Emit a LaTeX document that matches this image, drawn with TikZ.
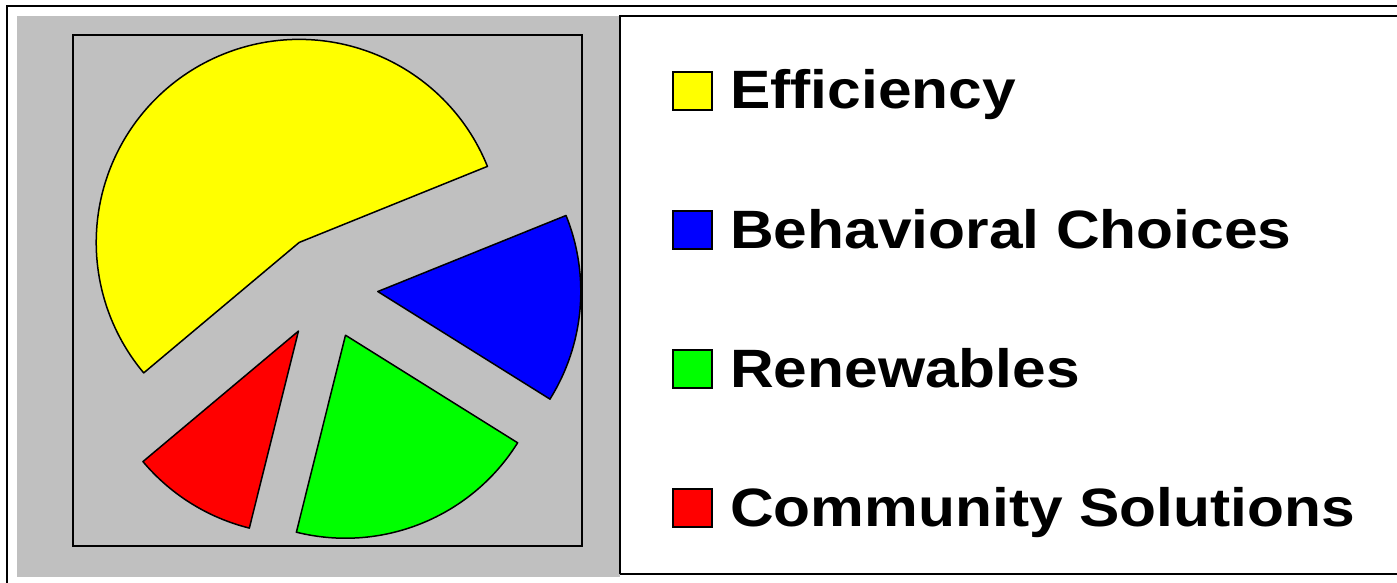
\documentclass[tikz,border=0pt]{standalone}
\usepackage{fontspec}
\usetikzlibrary{calc}
\newfontfamily\legfont{Liberation Sans}[FakeStretch=1.12]
\definecolor{silv}{HTML}{C0C0C0}
\definecolor{pyel}{HTML}{FFFF00}
\definecolor{pblu}{HTML}{0000FF}
\definecolor{pgrn}{HTML}{00FF00}
\definecolor{pred}{HTML}{FF0000}
\begin{document}
\begin{tikzpicture}[x=1pt,y=1pt,
  slice/.style={draw=black,line width=1.5pt,line join=round},
  legsq/.style={draw=black,line width=1.5pt,minimum width=39pt,minimum height=38pt,inner sep=0pt},
  legtxt/.style={anchor=base west,inner sep=0pt,font=\legfont\bfseries\fontsize{54}{64}\selectfont}]
\useasboundingbox (0,0) rectangle (1397,582);
\clip (0,0) rectangle (1397,582);
\fill[white] (0,0) rectangle (1397,582);
% outer frame (cut off at right and bottom)
\draw[line width=2pt] (7,-10) -- (7,576) -- (1410,576);
% gray plot area
\fill[silv] (17,5) rectangle (620,566);
% plot box
\draw[line width=1.8pt] (73,36) rectangle (582,547);
% pie
\coordinate (C) at (326,295);
\def\R{203}
\draw[slice,fill=pyel] ($(C)+(121:52)$) -- ++(22:\R) arc[start angle=22,end angle=220,radius=\R] -- cycle;
\draw[slice,fill=pblu] ($(C)+(-5:52)$) -- ++(-32:\R) arc[start angle=-32,end angle=22,radius=\R] -- cycle;
\draw[slice,fill=pgrn] ($(C)+(-68:52)$) -- ++(-104:\R) arc[start angle=-104,end angle=-32,radius=\R] -- cycle;
\draw[slice,fill=pred] ($(C)+(-122:52)$) -- ++(-140:\R) arc[start angle=-140,end angle=-104,radius=\R] -- cycle;
% legend box
\draw[line width=1.5pt,fill=white] (620,8) -- (620,566) -- (1410,566);
\draw[line width=1.5pt] (620,8) -- (1410,8);
% legend entries
\node[legsq,fill=pyel] (s1) at (692.5,491) {};
\node[legsq,fill=pblu] (s2) at (692.5,352) {};
\node[legsq,fill=pgrn] (s3) at (692.5,213) {};
\node[legsq,fill=pred] (s4) at (692.5,74) {};
\node[legtxt] (t1) at (730,473) {Efficiency};
\node[legtxt] (t2) at (730,334) {Behavioral Choices};
\node[legtxt] (t3) at (730,195) {Renewables};
\node[legtxt] (t4) at (730,56) {Community Solutions};
\end{tikzpicture}
\end{document}
